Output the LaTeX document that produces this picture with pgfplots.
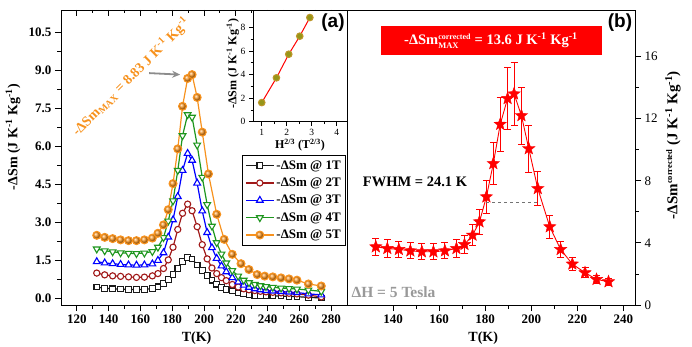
\documentclass[border=0pt]{standalone}
\usepackage{fontspec}
\setmainfont{Liberation Serif}
\newfontfamily\sansbold{Liberation Sans}
\usepackage{amsmath}
\usepackage{pgfplots}
\usepackage{pgfplotstable}
\pgfplotsset{compat=1.18}
\usetikzlibrary{arrows.meta}

\definecolor{c1}{RGB}{25,25,25}
\definecolor{c2}{RGB}{160,25,25}
\definecolor{c3}{RGB}{0,0,255}
\definecolor{c4}{RGB}{30,150,30}
\definecolor{c5}{RGB}{247,146,30}
\definecolor{starred}{RGB}{255,0,0}
\definecolor{olivefill}{RGB}{150,150,25}
\definecolor{olivedraw}{RGB}{190,150,40}

% filled five-pointed star
\pgfdeclareplotmark{fstar}{%
  \pgfpathmoveto{\pgfpointpolar{90}{\pgfplotmarksize}}%
  \pgfpathlineto{\pgfpointpolar{126}{0.42\pgfplotmarksize}}%
  \pgfpathlineto{\pgfpointpolar{162}{\pgfplotmarksize}}%
  \pgfpathlineto{\pgfpointpolar{198}{0.42\pgfplotmarksize}}%
  \pgfpathlineto{\pgfpointpolar{234}{\pgfplotmarksize}}%
  \pgfpathlineto{\pgfpointpolar{270}{0.42\pgfplotmarksize}}%
  \pgfpathlineto{\pgfpointpolar{306}{\pgfplotmarksize}}%
  \pgfpathlineto{\pgfpointpolar{342}{0.42\pgfplotmarksize}}%
  \pgfpathlineto{\pgfpointpolar{18}{\pgfplotmarksize}}%
  \pgfpathlineto{\pgfpointpolar{54}{0.42\pgfplotmarksize}}%
  \pgfpathclose
  \pgfusepathqfillstroke}

\newcommand{\tickfont}{\fontsize{13}{15}\selectfont\bfseries}
\newcommand{\labfont}{\fontsize{14}{16}\selectfont\bfseries}
\newcommand{\inv}{\textsuperscript{-1}}

% entropy change for 1 T ... 4 T
\pgfplotstableread{
T     s1    s2    s3    s4
132.5 0.45  1.00  1.45  1.95
137.5 0.40  0.93  1.40  1.88
142.5 0.38  0.89  1.37  1.84
147.5 0.37  0.87  1.34  1.80
152.5 0.36  0.85  1.32  1.78
157.5 0.35  0.83  1.31  1.77
162.5 0.36  0.84  1.32  1.79
167.5 0.39  0.89  1.36  1.85
171.0 0.46  0.98  1.50  2.02
174.5 0.58  1.18  1.80  2.40
177.5 0.74  1.52  2.42  3.05
180.5 0.95  2.02  3.10  3.85
183.5 1.18  2.72  4.02  5.05
186.5 1.45  3.36  5.05  6.42
189.7 1.62  3.72  5.72  7.25
192.5 1.56  3.46  5.45  7.15
195.7 1.32  2.83  4.55  6.05
198.9 1.10  2.12  3.45  4.78
202.0 0.90  1.56  2.60  3.70
205.0 0.72  1.20  2.00  2.85
208.0 0.56  0.98  1.58  2.20
211.0 0.44  0.82  1.28  1.75
214.0 0.36  0.70  1.05  1.40
217.8 0.30  0.55  0.82  1.10
221.5 0.22  0.45  0.65  0.88
225.0 0.17  0.38  0.52  0.72
228.3 0.14  0.34  0.44  0.62
232.0 0.12  0.31  0.38  0.55
235.5 0.11  0.28  0.34  0.50
239.0 0.10  0.26  0.31  0.47
243.3 0.10  0.24  0.29  0.44
248.5 0.09  0.22  0.27  0.41
253.5 0.08  0.20  0.25  0.39
258.5 0.07  0.18  0.23  0.37
265.7 0.04  0.13  0.18  0.33
273.8 0.02  0.06  0.14  0.28
}\dataLow

% entropy change for 5 T
\pgfplotstableread{
T     s5
132.5 2.49
137.5 2.41
142.5 2.36
147.5 2.31
152.5 2.28
157.5 2.28
162.5 2.31
167.5 2.38
171.0 2.57
174.5 2.90
177.5 3.50
180.5 4.53
183.5 5.90
186.5 7.58
189.7 8.68
192.5 8.83
195.7 7.93
198.9 6.56
202.8 4.91
208.0 3.32
212.7 2.33
217.8 1.74
223.3 1.37
228.3 1.14
233.5 0.94
238.2 0.88
243.3 0.85
248.5 0.81
253.5 0.77
258.5 0.72
265.7 0.57
273.8 0.49
}\dataFive

% peak value against H^{2/3}
\pgfplotstableread{
h    peak
1.000 1.62
1.587 3.72
2.080 5.72
2.520 7.25
2.924 8.83
}\dataPeak

% corrected entropy change, 5 T
\pgfplotstableread{
T     ds    err
132.5 3.75  0.56
137.5 3.64  0.55
142.5 3.58  0.54
147.5 3.49  0.52
152.5 3.43  0.51
157.5 3.43  0.51
162.5 3.49  0.52
167.5 3.64  0.55
171.0 3.90  0.58
174.5 4.50  0.67
177.5 5.36  0.80
180.5 6.97  1.05
183.5 9.11  1.37
186.5 11.64 1.75
189.7 13.30 2.00
192.5 13.60 2.05
195.7 12.20 1.83
198.9 10.07 1.51
202.8 7.50  1.12
208.0 5.04  0.76
212.7 3.58  0.54
217.8 2.64  0.40
223.3 2.08  0.31
228.3 1.65  0.25
233.5 1.50  0.22
}\dataCorr

\begin{document}
\begin{tikzpicture}
\path[use as bounding box] (0,0) rectangle (692pt,346pt);

\pgfplotsset{
  common/.style={
    scale only axis, anchor=south west,
    tick align=outside,
    major tick length=6pt, minor tick length=3.5pt,
    every tick/.style={black, line width=0.8pt},
    axis line style={line width=0.8pt},
    /pgf/number format/assume math mode=true,
    tick label style={font=\tickfont},
  }
}

% ---------- panel (a) ----------
\begin{axis}[common,
  at={(61pt,41pt)}, width=286pt, height=295pt,
  xmin=110, xmax=290, ymin=-0.26, ymax=11.38,
  xtick={120,140,...,280}, minor x tick num=1,
  ytick={0,1.5,3,4.5,6,7.5,9,10.5}, minor y tick num=1,
  xtick pos=bottom, ytick pos=left,
  yticklabel style={/pgf/number format/.cd, fixed, fixed zerofill, precision=1},
  xlabel={T(K)}, ylabel={-ΔSm (J K\inv{} Kg\inv)},
  xlabel style={font=\labfont, at={(axis description cs:0.474,-0.112)}, anchor=center},
  ylabel style={font=\labfont, at={(axis description cs:-0.168,0.569)}, anchor=center, rotate=0},
  legend style={at={(0.997,0.508)}, anchor=north east, draw=black, line width=0.8pt,
    font=\fontsize{13}{14}\selectfont\bfseries, row sep=3.2pt,
    inner xsep=3pt, inner ysep=3pt, cells={anchor=west}},
  legend image code/.code={\draw[mark repeat=2,mark phase=2,#1]
    plot coordinates {(0pt,0pt)(14pt,0pt)(28pt,0pt)};},
]
\addplot[c1, line width=1.2pt, mark=square*, mark size=2.8pt,
  mark options={solid, line width=1.1pt, fill=white}] table[x=T,y=s1]{\dataLow};
\addlegendentry{-ΔSm @ 1T}
\addplot[c2, line width=1.2pt, mark=*, mark size=3.1pt,
  mark options={solid, line width=1.1pt, fill=white}] table[x=T,y=s2]{\dataLow};
\addlegendentry{-ΔSm @ 2T}
\addplot[c3, line width=1.2pt, mark=triangle*, mark size=3.9pt,
  mark options={solid, line width=1.1pt, fill=white}] table[x=T,y=s3]{\dataLow};
\addlegendentry{-ΔSm @ 3T}
\addplot[c4, line width=1.2pt, mark=triangle*, mark size=3.9pt,
  mark options={solid, line width=1.1pt, fill=white, rotate=180}] table[x=T,y=s4]{\dataLow};
\addlegendentry{-ΔSm @ 4T}
\addplot[c5, line width=1.2pt, mark=ball, mark size=3.9pt,
  mark options={solid, ball color=c5}] table[x=T,y=s5]{\dataFive};
\addlegendentry{-ΔSm @ 5T}

\draw[-{Stealth[length=8pt,width=7pt]}, black!45, line width=1.8pt]
  (axis cs:165.5,8.89) -- (axis cs:185.0,8.83);
\end{axis}

% top ticks of panel (a), pointing inwards
\begin{axis}[common,
  at={(61pt,41pt)}, width=286pt, height=295pt,
  xmin=110, xmax=290, ymin=-0.26, ymax=11.38,
  axis x line*=top, axis y line=none, tick align=inside,
  xtick={120,140,...,280}, minor x tick num=1, xticklabels={},
]
\end{axis}

% ---------- inset ----------
\begin{axis}[common,
  at={(253pt,224.3pt)}, width=94pt, height=111.7pt,
  axis background/.style={fill=white},
  xmin=0.65, xmax=4.41, ymin=0, ymax=9.47,
  xtick={1,2,3,4}, minor x tick num=1,
  ytick={0,2,4,6,8}, minor y tick num=1,
  xtick pos=bottom, ytick pos=left,
  major tick length=4pt, minor tick length=2.5pt,
  tick label style={font=\fontsize{9.5}{10}\selectfont},
  xlabel={H\textsuperscript{2/3} (T\textsuperscript{2/3})},
  ylabel={-ΔSm (J K\inv{} Kg\inv)},
  xlabel style={font=\fontsize{12}{13}\selectfont\bfseries, at={(axis description cs:0.5,-0.21)}, anchor=center},
  ylabel style={font=\fontsize{12}{13}\selectfont\bfseries, at={(axis description cs:-0.215,0.52)}, anchor=center},
]
\addplot[red, line width=1pt] table[x=h,y=peak]{\dataPeak};
\addplot[only marks, mark=*, mark size=3.3pt,
  mark options={fill=olivefill, draw=olivedraw, line width=1pt}] table[x=h,y=peak]{\dataPeak};
\end{axis}

% ---------- panel (b) ----------
\begin{axis}[common,
  at={(347pt,41pt)}, width=288pt, height=295pt,
  xmin=120, xmax=245, ymin=0, ymax=19,
  xtick={140,160,...,240}, minor x tick num=1,
  ytick={0,4,8,12,16}, minor y tick num=1,
  xtick pos=bottom, ytick pos=right,
  yticklabel style={font=\fontsize{13}{15}\selectfont},
  xlabel={T(K)},
  ylabel={-ΔSm\textsuperscript{\fontsize{8.5}{9}\selectfont corrected} (J K\inv{} Kg\inv)},
  xlabel style={font=\labfont, at={(axis description cs:0.473,-0.112)}, anchor=center},
  ylabel style={font=\fontsize{15}{17}\selectfont\bfseries, at={(axis description cs:1.132,0.542)}, anchor=center, rotate=0},
]
\addplot[starred, line width=0.9pt, mark=fstar, mark size=6.5pt,
  mark options={solid, fill=starred, draw=starred, line width=0.4pt},
  error bars/.cd, y dir=both, y explicit,
  error bar style={starred, line width=0.9pt},
  error mark options={rotate=90, starred, mark size=3.5pt, line width=0.9pt}]
  table[x=T, y=ds, y error=err]{\dataCorr};

\draw[black!55, dashed, line width=1.2pt] (axis cs:180.5,6.6) -- (axis cs:203.5,6.6);
\end{axis}

% ---------- annotations ----------
\node[rotate=45, text=c5, font=\fontsize{14}{16}\selectfont\bfseries]
  at (131pt,269pt) {-ΔSm\textsubscript{MAX} = 8.83 J K\inv{} Kg\inv};
\node[font=\sansbold\fontsize{19}{21}\selectfont\bfseries] at (333pt,323pt) {(a)};
\node[font=\sansbold\fontsize{19}{21}\selectfont\bfseries] at (620pt,323pt) {(b)};
\node[fill=red, text=white, minimum width=221pt, minimum height=29pt, inner sep=0pt,
  font=\fontsize{14.5}{16}\selectfont\bfseries] at (491pt,305.5pt)
  {-ΔSm$_{\text{\fontsize{8.5}{9}\selectfont MAX}}^{\text{\fontsize{8}{9}\selectfont corrected}}$ = 13.6 J K\inv{} Kg\inv};
\node[font=\fontsize{14.5}{16}\selectfont\bfseries] at (415pt,164pt) {FWHM = 24.1 K};
\node[anchor=west, text=black!40, font=\fontsize{15.5}{17}\selectfont\bfseries] at (348pt,54.3pt) {ΔH = 5 Tesla};
\end{tikzpicture}
\end{document}
